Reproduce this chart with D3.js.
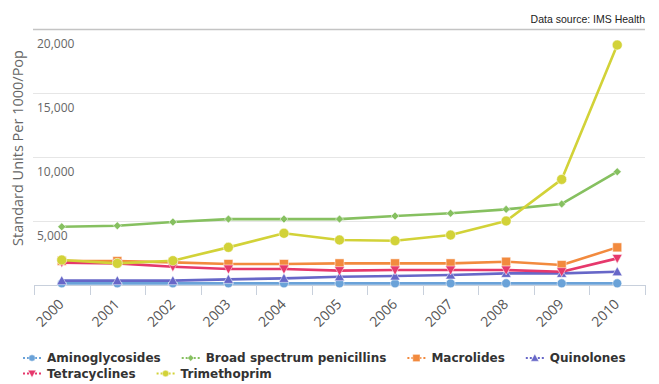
<!DOCTYPE html>
<html>
<head>
<meta charset="utf-8">
<script src="https://cdn.jsdelivr.net/npm/d3@7"></script>
<style>
  html, body { margin: 0; padding: 0; background: #fff; }
  svg { display: block; }
</style>
</head>
<body>
<svg id="chart" width="659" height="384"></svg>
<script>
// Antibiotic prescriptions, standard units per 1000 population
const years = ["2000","2001","2002","2003","2004","2005","2006","2007","2008","2009","2010"];
const aminoglycosides = [130, 130, 130, 130, 130, 130, 130, 130, 130, 130, 130];
const broadSpectrumPenicillins = [4550, 4630, 4920, 5150, 5150, 5150, 5390, 5600, 5910, 6330, 8850];
const macrolides = [1880, 1870, 1770, 1640, 1640, 1690, 1690, 1690, 1820, 1560, 2940];
const quinolones = [340, 340, 340, 440, 520, 650, 700, 780, 910, 910, 1040];
const tetracyclines = [1750, 1690, 1430, 1250, 1250, 1120, 1170, 1170, 1170, 1040, 2080];
const trimethoprim = [1950, 1690, 1900, 2940, 4040, 3520, 3460, 3900, 5000, 8250, 18750];
const yTicks = [0, 5000, 10000, 15000, 20000];

const series = [
  { name: "Aminoglycosides", values: aminoglycosides, color: "#6aa2d8", symbol: "circle" },
  { name: "Broad spectrum penicillins", values: broadSpectrumPenicillins, color: "#86c060", symbol: "diamond" },
  { name: "Macrolides", values: macrolides, color: "#f28a3e", symbol: "square" },
  { name: "Quinolones", values: quinolones, color: "#6767c8", symbol: "triangle" },
  { name: "Tetracyclines", values: tetracyclines, color: "#e6386c", symbol: "triangle-down" },
  { name: "Trimethoprim", values: trimethoprim, color: "#d2d238", symbol: "circle" }
];

const svg = d3.select("#chart");
const plot = { left: 34, right: 645, top: 29, bottom: 285 };

const x = d3.scaleBand().domain(years).range([plot.left, plot.right]).padding(0);
const y = d3.scaleLinear().domain([0, 20000]).range([plot.bottom, plot.top]);
const cx = d => x(d) + x.bandwidth() / 2;

const fmt = d3.format(",");

// Horizontal grid lines
svg.append("g").selectAll("line")
  .data(yTicks.filter(t => t > 0))
  .join("line")
  .attr("x1", plot.left - 1).attr("x2", plot.right)
  .attr("y1", d => Math.round(y(d)) + 0.5).attr("y2", d => Math.round(y(d)) + 0.5)
  .attr("stroke", d => d === 20000 ? "#c4c4c4" : "#e6e6e6")
  .attr("stroke-width", d => d === 20000 ? 1.5 : 1);

// Y tick labels sit just inside the plot, beneath each grid line
svg.append("g").selectAll("text")
  .data(yTicks.filter(t => t > 0))
  .join("text")
  .attr("x", 37).attr("y", d => y(d) + 19)
  .attr("font-family", "Open Sans, sans-serif").attr("font-size", 12)
  .attr("fill", "#666")
  .text(d => fmt(d));

// Y axis title
svg.append("text")
  .attr("transform", "translate(23,148) rotate(-90)")
  .attr("text-anchor", "middle")
  .attr("font-family", "Open Sans, sans-serif").attr("font-size", 14.5)
  .attr("fill", "#666")
  .text("Standard Units Per 1000/Pop");

// X axis with ticks between categories
svg.append("line")
  .attr("x1", plot.left).attr("x2", plot.right + 1)
  .attr("y1", plot.bottom + 0.5).attr("y2", plot.bottom + 0.5)
  .attr("stroke", "#c8d0dc").attr("stroke-width", 1);
const edges = years.map(d => x(d)).concat([x(years[years.length - 1]) + x.bandwidth()]);
svg.append("g").selectAll("line")
  .data(edges)
  .join("line")
  .attr("x1", d => Math.round(d) + 0.5).attr("x2", d => Math.round(d) + 0.5)
  .attr("y1", plot.bottom).attr("y2", plot.bottom + 10)
  .attr("stroke", "#c8d0dc");

svg.append("g").selectAll("text")
  .data(years)
  .join("text")
  .attr("transform", d => `translate(${cx(d) + 3},${plot.bottom + 20}) rotate(-45)`)
  .attr("text-anchor", "end")
  .attr("font-family", "Open Sans, sans-serif").attr("font-size", 14)
  .attr("fill", "#555")
  .text(d => d);

// Marker shapes
function markerPath(symbol) {
  switch (symbol) {
    case "diamond": return "M0,-4L4,0L0,4L-4,0Z";
    case "square": return "M-4.5,-4.5H4.5V4.5H-4.5Z";
    case "triangle": return "M0,-5L5,4L-5,4Z";
    case "triangle-down": return "M0,5L5,-4L-5,-4Z";
  }
  return null;
}
function drawMarker(g, s, px, py, r) {
  if (s.symbol === "circle") {
    g.append("circle").attr("cx", px).attr("cy", py).attr("r", r)
      .attr("fill", s.color).attr("stroke", "#fff").attr("stroke-opacity", 0.5).attr("stroke-width", 1);
  } else {
    g.append("path").attr("d", markerPath(s.symbol))
      .attr("transform", `translate(${px},${py})`)
      .attr("fill", s.color).attr("stroke", "#fff").attr("stroke-opacity", 0.5).attr("stroke-width", 1);
  }
}

const line = d3.line().x((d, i) => cx(years[i])).y(d => y(d));

const seriesG = svg.append("g");
series.forEach(s => {
  const g = seriesG.append("g");
  g.append("path")
    .attr("d", line(s.values))
    .attr("fill", "none")
    .attr("stroke", s.color)
    .attr("stroke-width", 2.6)
    .attr("stroke-linejoin", "round");
  s.values.forEach((v, i) => drawMarker(g, s, cx(years[i]), y(v), s.name === "Trimethoprim" ? 5 : 4.5));
});

// Source note
svg.append("text")
  .attr("x", plot.right).attr("y", 23)
  .attr("text-anchor", "end")
  .attr("font-family", "Liberation Sans, Arial, sans-serif").attr("font-size", 10.5)
  .attr("fill", "#222")
  .text("Data source: IMS Health");

// Legend, two rows
const legend = svg.append("g");
const rows = [series.slice(0, 4), series.slice(4)];
rows.forEach((row, ri) => {
  let lx = 23;
  const ly = 358 + ri * 15.5;
  row.forEach(s => {
    const item = legend.append("g");
    item.append("line")
      .attr("x1", lx).attr("x2", lx + 18)
      .attr("y1", ly).attr("y2", ly)
      .attr("stroke", s.color).attr("stroke-width", 2)
      .attr("stroke-dasharray", "2,2");
    item.append("g").attr("transform", `translate(${lx + 9},${ly}) scale(0.8)`)
      .call(g => drawMarker(g, s, 0, 0, 4));
    const t = item.append("text")
      .attr("x", lx + 24).attr("y", ly + 4.3)
      .attr("font-family", "DejaVu Sans, sans-serif").attr("font-size", 12).attr("font-weight", "bold")
      .attr("fill", "#333")
      .text(s.name);
    lx += 24 + t.node().getComputedTextLength() + 21;
  });
});
</script>
</body>
</html>
